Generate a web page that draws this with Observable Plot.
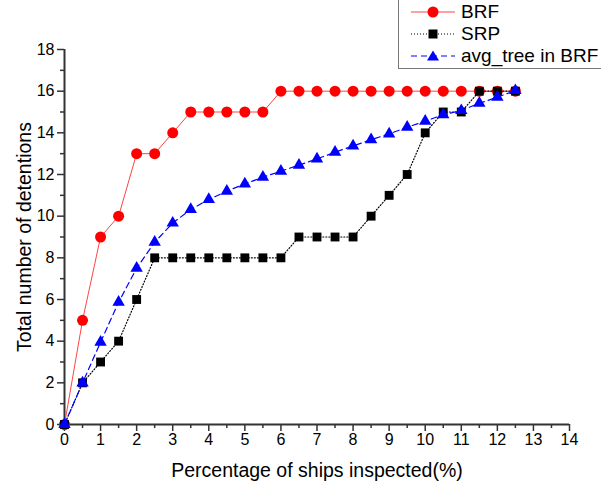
<!DOCTYPE html>
<html>
<head>
<meta charset="utf-8">
<script src="https://cdn.jsdelivr.net/npm/d3@7"></script>
<script src="https://cdn.jsdelivr.net/npm/@observablehq/plot@0.6"></script>
<style>
  body { margin: 0; background: #fff; font-family: "Liberation Sans", Arial, sans-serif; }
  #wrap { position: relative; width: 601px; height: 492px; overflow: hidden; }
  #legend { position: absolute; left: 398px; top: -2px; width: 220px; height: 71px; border: 1px solid #777; background: #fff; box-sizing: border-box; }
  .item { position: absolute; left: 12px; height: 22px; display: flex; align-items: center; font-size: 19px; color: #000; }
  .item svg { margin-right: 6px; }
</style>
</head>
<body>
<div id="wrap"></div>
<script>
const pct = [0,0.5,1,1.5,2,2.5,3,3.5,4,4.5,5,5.5,6,6.5,7,7.5,8,8.5,9,9.5,10,10.5,11,11.5,12,12.5];
const brf = [0,5,9,10,13,13,14,15,15,15,15,15,16,16,16,16,16,16,16,16,16,16,16,16,16,16];
const srp = [0,2,3,4,6,8,8,8,8,8,8,8,8,9,9,9,9,10,11,12,14,15,15,16,16,16];
const avgTree = [0,2,3.95,5.87,7.5,8.75,9.67,10.32,10.8,11.2,11.55,11.87,12.16,12.45,12.75,13.07,13.37,13.67,13.95,14.27,14.56,14.87,15.07,15.42,15.71,16.03];
const xTicks = d3.range(0, 15, 1);
const xMinor = d3.range(0.5, 14, 1);
const yTicks = d3.range(0, 19, 2);
const yMinor = d3.range(1, 18, 2);

const rows = (ys) => pct.map((x, i) => ({x, y: ys[i]}));
const dBRF = rows(brf), dSRP = rows(srp), dAvg = rows(avgTree);
const blank = () => "";

const chart = Plot.plot({
  width: 601, height: 492,
  marginLeft: 64, marginRight: 32, marginTop: 49, marginBottom: 68,
  style: {fontFamily: "Liberation Sans, Arial, sans-serif", fontSize: "16px", color: "#000", background: "#fff"},
  x: {domain: [0, 14]},
  y: {domain: [0, 18]},
  marks: [
    Plot.axisX({ticks: xTicks, tickSize: 7, tickPadding: 2, tickFormat: d3.format("d"), stroke: "#333", strokeWidth: 1.5, label: "Percentage of ships inspected(%)", labelAnchor: "center", labelArrow: "none", labelOffset: 52, fontSize: 16}),
    Plot.axisX({ticks: xMinor, tickSize: 4, tickFormat: blank, stroke: "#333", strokeWidth: 1.5, label: null}),
    Plot.axisY({ticks: yTicks, tickSize: 7, tickPadding: 3, stroke: "#333", strokeWidth: 1.5, label: "Total number of detentions", labelAnchor: "center", labelArrow: "none", labelOffset: 47, fontSize: 16}),
    Plot.axisY({ticks: yMinor, tickSize: 4, tickFormat: blank, stroke: "#333", strokeWidth: 1.5, label: null}),
    Plot.ruleY([0], {stroke: "#333", strokeWidth: 2}),
    Plot.ruleX([0], {stroke: "#333", strokeWidth: 2}),
    Plot.line(dBRF, {x: "x", y: "y", stroke: "#ff4444", strokeWidth: 1}),
    Plot.dot(dBRF, {x: "x", y: "y", fill: "#ff0000", r: 5.5, symbol: "circle"}),
    Plot.line(dSRP, {x: "x", y: "y", stroke: "#000", strokeWidth: 1.2, strokeDasharray: "1,2"}),
    Plot.dot(dSRP, {x: "x", y: "y", fill: "#000", r: 5, symbol: "square"}),
    Plot.line(dAvg, {x: "x", y: "y", stroke: "#0000ff", strokeWidth: 1.2, strokeDasharray: "6,4"}),
    Plot.dot(dAvg, {x: "x", y: "y", fill: "#0000ff", r: 4.6, symbol: "triangle"})
  ]
});
chart.querySelectorAll("g[aria-label='x-axis label'] text, g[aria-label='y-axis label'] text").forEach(t => t.setAttribute("font-size", "19.5px"));
document.getElementById("wrap").appendChild(chart);

const legendItems = [
  {name: "BRF", color: "#ff0000", line: "#ff4444", dash: null, shape: "circle", y: 2},
  {name: "SRP", color: "#000", line: "#000", dash: "1,2", shape: "square", y: 24},
  {name: "avg_tree in BRF", color: "#0000ff", line: "#0000ff", dash: "6,4", shape: "triangle", y: 46}
];
const lg = document.createElement("div");
lg.id = "legend";
for (const it of legendItems) {
  const d = document.createElement("div");
  d.className = "item";
  d.style.top = it.y + "px";
  let mk;
  if (it.shape === "circle") mk = `<circle cx="22" cy="11" r="5.5" fill="${it.color}"/>`;
  else if (it.shape === "square") mk = `<rect x="17.5" y="6.5" width="9" height="9" fill="${it.color}"/>`;
  else mk = `<path d="M22,5.5 L28,15.5 L16,15.5 Z" fill="${it.color}"/>`;
  d.innerHTML = `<svg width="44" height="22"><line x1="0" x2="44" y1="11" y2="11" stroke="${it.line}" stroke-width="1.2" ${it.dash ? `stroke-dasharray="${it.dash}"` : ""}/>${mk}</svg><span>${it.name}</span>`;
  lg.appendChild(d);
}
document.getElementById("wrap").appendChild(lg);
</script>
</body>
</html>
